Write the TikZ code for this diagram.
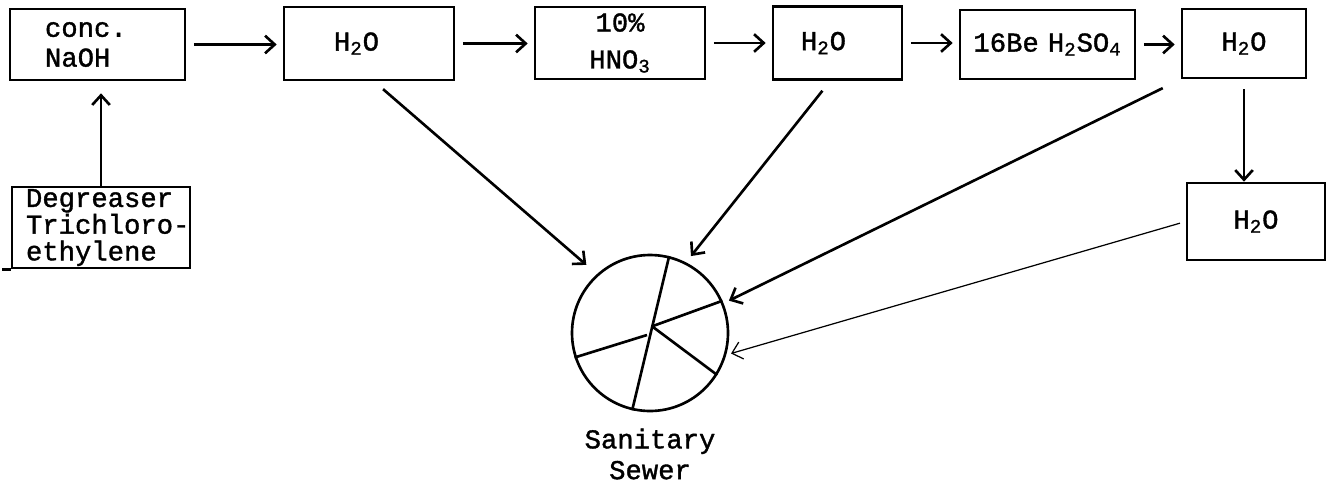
\documentclass[tikz,border=0pt]{standalone}
\usepackage{fontspec}
\setmainfont{Liberation Mono}[FakeBold=1.3]
\usetikzlibrary{arrows.meta,positioning}

\begin{document}
\begin{tikzpicture}[line width=1.5pt,
    every node/.style={font=\fontsize{15.5}{17}\selectfont},
    tank/.style={draw, inner ysep=0pt, minimum height=1.45cm},
    flow/.style={-{Straight Barb[length=5.5pt,width=10pt]}}]
  \useasboundingbox (0,0) rectangle (26.58,-9.66);

  \node[tank, align=left, inner xsep=0.7cm, text width=2.1cm, minimum height=1.42cm] (naoh) at (1.95,-0.89) {conc.\\NaOH};
  \node[tank, align=left, inner xsep=1.0cm, text width=1.4cm, minimum height=1.46cm] (rinse1) at (7.38,-0.87) {H\textsubscript{2}O};
  \node[tank, align=center, inner xsep=0pt, text width=3.4cm, minimum height=1.44cm, font=\fontsize{15.5}{21}\selectfont] (nitric) at (12.4,-0.86) {10\%\\HNO\textsubscript{3}};
  \node[tank, align=left, inner xsep=0.56cm, text width=1.46cm] (rinse2) at (16.75,-0.86) {H\textsubscript{2}O};
  \node[tank, align=center, inner xsep=0pt, text width=3.5cm, minimum height=1.38cm] (sulfuric) at (20.95,-0.89) {16Be H\textsubscript{2}SO\textsubscript{4}};
  \node[tank, align=center, inner xsep=0pt, text width=2.48cm, minimum height=1.38cm] (rinse3) at (24.88,-0.87) {H\textsubscript{2}O};
  \node[tank, align=center, inner xsep=0pt, text width=2.76cm, minimum height=1.54cm] (rinse4) at (25.12,-4.43) {H\textsubscript{2}O};
  \node[tank, align=left, inner xsep=0.28cm, text width=3.0cm, minimum height=1.62cm, font=\fontsize{15.5}{15.2}\selectfont] (degreaser) at (2.02,-4.55) {Degreaser\\\mbox{Trichloro-}\\ethylene};
  \draw (degreaser.south west) -- ++(-0.18,0);

  \foreach \from/\to in {naoh/rinse1, rinse1/nitric, nitric/rinse2, rinse2/sulfuric, sulfuric/rinse3}
    \draw[flow, shorten <=0.15cm, shorten >=0.12cm] (\from.east) -- (\from.east -| \to.west);
  \draw[flow, shorten <=0.2cm] (rinse3.south) -- (rinse3.south |- rinse4.north);
  \draw[flow, shorten >=0.24cm] (degreaser.north) -- (degreaser.north |- naoh.south);

  \node[draw, circle, minimum size=3.12cm, inner sep=0pt] (sewer) at (13,-6.66) {};
  \node[align=center, inner sep=0pt, below=0.3cm of sewer, font=\fontsize{15.5}{17.5}\selectfont] (sewer-txt) {Sanitary\\Sewer};
  \draw (sewer.76) -- (sewer.257);
  \draw (sewer.198) -- ([shift={(-0.06,-0.04)}]sewer.center);
  \draw ([shift={(0.06,0.14)}]sewer.center) -- (sewer.24);
  \draw ([shift={(0.06,0.12)}]sewer.center) -- (sewer.-32);

  \draw[flow, shorten <=0.24cm, shorten >=0.28cm] ([xshift=0.1cm]rinse1.south) -- (sewer.132);
  \draw[flow, shorten <=0.26cm, shorten >=0.16cm] ([xshift=-0.14cm]rinse2.south) -- (sewer.63);
  \draw[flow, shorten <=0.4cm, shorten >=0.12cm] (rinse3.south west) -- (sewer.22);
  \draw[flow, line width=0.7pt, shorten <=0.12cm, shorten >=0.1cm] (rinse4.west) -- (sewer.-16);
\end{tikzpicture}
\end{document}
